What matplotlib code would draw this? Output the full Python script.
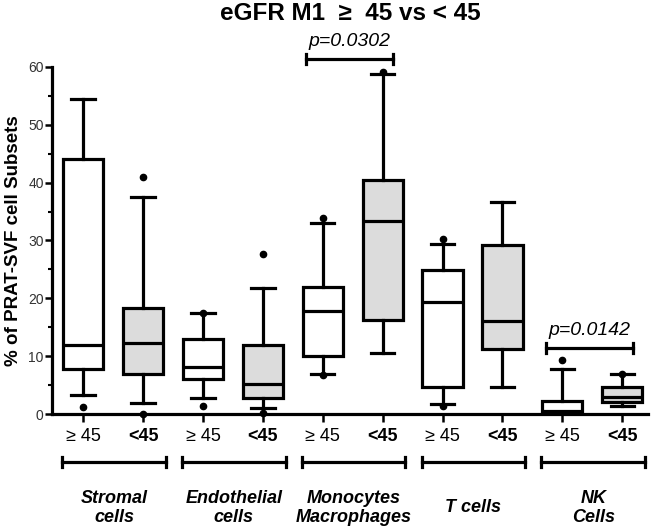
import matplotlib
matplotlib.use("Agg")
import matplotlib.pyplot as plt

plt.rcParams['font.family'] = ['Liberation Sans', 'DejaVu Sans']

groups = ["Stromal\ncells", "Endothelial\ncells", "Monocytes\nMacrophages", "T cells", "NK\nCells"]
tick_labels = ["\u2265 45", "<45"] * 5

# box statistics, in box order (>=45, <45 per group)
whislo = [3.2, 1.85, 2.8, 1.0, 7.0, 10.5, 1.7, 4.7, 0.0, 1.4]
q1 = [7.7, 6.9, 6.05, 2.8, 10.1, 16.3, 4.7, 11.2, 0.1, 2.0]
med = [11.9, 12.3, 8.1, 5.2, 17.8, 33.4, 19.4, 16.1, 0.5, 3.0]
q3 = [44.1, 18.4, 13.0, 11.9, 21.9, 40.5, 24.9, 29.2, 2.2, 4.7]
whishi = [54.5, 37.6, 17.4, 21.8, 33.0, 58.8, 29.4, 36.6, 7.8, 7.0]
fliers = [[1.2], [41.0, 0.0], [17.5, 1.4], [27.6, 0.2], [33.9, 6.8],
          [59.2], [30.3, 1.3], [], [9.3], [7.0]]

pvals = ["p=0.0302", "p=0.0142"]
p_pairs = [(5, 6), (9, 10)]
p_heights = [61.4, 11.4]

stats = []
for i in range(10):
    stats.append(dict(whislo=whislo[i], q1=q1[i], med=med[i], q3=q3[i],
                      whishi=whishi[i], fliers=fliers[i]))

fig = plt.figure(figsize=(6.53, 5.28), dpi=100)
ax = fig.add_axes([52/653, 114/528, 596/653, 347/528])

pos = list(range(1, 11))
lw = 2.3
bp = ax.bxp(stats, positions=pos, widths=0.67, patch_artist=True,
            capwidths=0.39,
            boxprops=dict(linewidth=lw, edgecolor='black'),
            whiskerprops=dict(linewidth=lw, color='black'),
            capprops=dict(linewidth=lw, color='black'),
            medianprops=dict(linewidth=lw, color='black'),
            flierprops=dict(marker='o', markerfacecolor='black', markeredgecolor='black',
                            markersize=4.5, linestyle='none'))
for i, b in enumerate(bp['boxes']):
    b.set_facecolor('white' if i % 2 == 0 else '#dcdcdc')
for f in bp['fliers']:
    f.set_clip_on(False)

ax.set_xlim(0.48, 10.43)
ax.set_ylim(0, 60)
ax.spines['top'].set_visible(False)
ax.spines['right'].set_visible(False)
ax.spines['left'].set_linewidth(lw)
ax.spines['bottom'].set_linewidth(lw)
ax.set_yticks(range(0, 61, 10))
ax.set_yticks(range(5, 60, 10), minor=True)
ax.tick_params(axis='y', which='major', length=5, width=1.8, labelsize=10, pad=1,
               labelcolor='#333333')
ax.tick_params(axis='y', which='minor', length=3, width=1.5)
ax.set_xticks(pos)
ax.set_xticklabels(tick_labels)
ax.tick_params(axis='x', length=6, width=1.8, labelsize=13, pad=4)
for i, t in enumerate(ax.get_xticklabels()):
    if i % 2 == 1:
        t.set_fontweight('bold')

ax.set_ylabel("% of PRAT-SVF cell Subsets", fontsize=13.5, fontweight='bold', labelpad=4)
ax.set_title("eGFR M1  \u2265  45 vs < 45", fontsize=17.5, fontweight='bold', pad=34)

# p-value brackets
for txt, (a, b), h in zip(pvals, p_pairs, p_heights):
    x0, x1 = a - 0.28, b + 0.18
    ax.plot([x0, x1], [h, h], color='black', lw=lw, clip_on=False)
    for xx in (x0, x1):
        ax.plot([xx, xx], [h - 0.9, h + 0.9], color='black', lw=lw, clip_on=False)
    ax.text((x0 + x1) / 2, h + 1.5, txt, ha='center', va='bottom', fontsize=14,
            fontstyle='italic', clip_on=False)

# group brackets and labels below the axis
tr = ax.get_xaxis_transform()
for g, name in enumerate(groups):
    x0 = 2 * g + 1 - 0.35
    x1 = 2 * g + 2 + 0.38
    ax.plot([x0, x1], [-0.138, -0.138], transform=tr, color='black', lw=lw, clip_on=False)
    for xx in (x0, x1):
        ax.plot([xx, xx], [-0.123, -0.153], transform=tr, color='black', lw=lw, clip_on=False)
    ax.text((x0 + x1) / 2, -0.27, name, transform=tr, ha='center', va='center',
            fontsize=13, fontweight='bold', fontstyle='italic', linespacing=1.15)

fig.savefig("out.png", dpi=100)
